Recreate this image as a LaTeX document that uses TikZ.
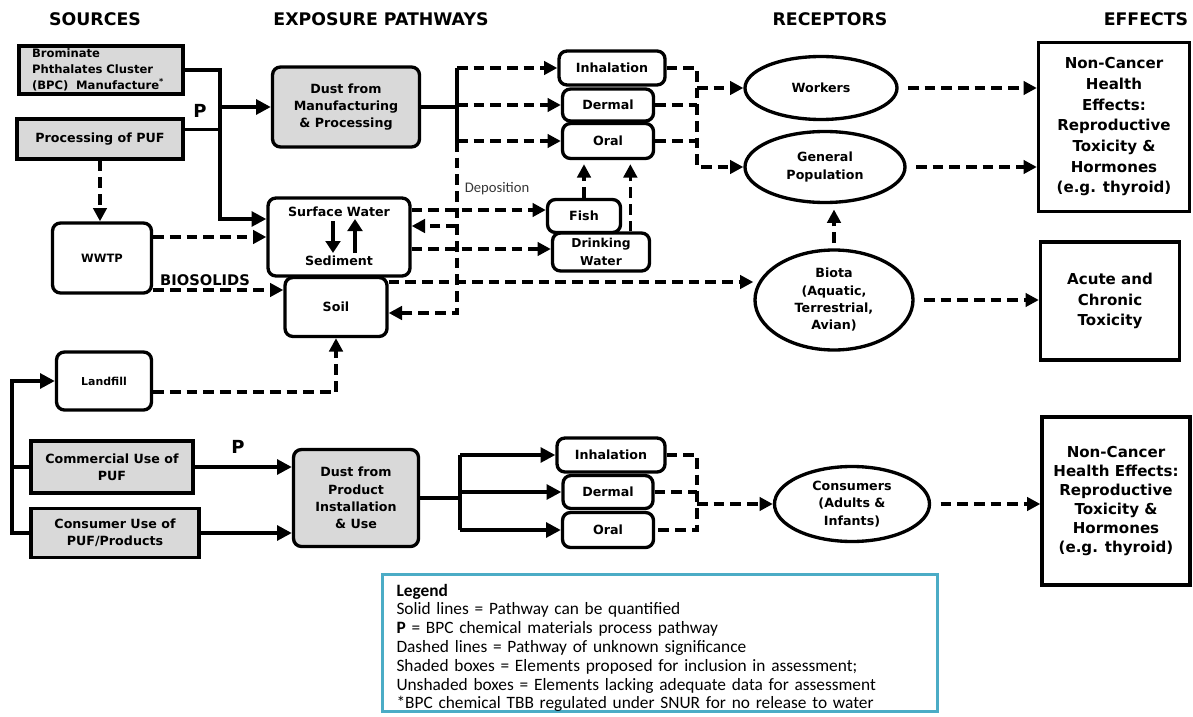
\documentclass[tikz,border=0pt]{standalone}
\usepackage{fontspec}
\setmainfont{DejaVu Sans}
\newfontfamily\legfont{Carlito}
\usetikzlibrary{arrows.meta,shapes.geometric}
\newlength\pxu \setlength\pxu{0.75pt}
\definecolor{boxgray}{RGB}{217,217,217}
\definecolor{legteal}{RGB}{75,172,198}
\definecolor{depgray}{RGB}{55,55,55}
\tikzset{
  box/.style={draw, line width=2.5pt, inner sep=1pt, align=center,
    font=\bfseries\fontsize{9.5}{13}\selectfont},
  shaded/.style={box, fill=boxgray},
  rbox/.style={box, rounded corners=6pt},
  srbox/.style={rbox, fill=boxgray},
  recep/.style={ellipse, draw, line width=2.5pt, inner sep=0pt, align=center,
    font=\bfseries\fontsize{9.5}{13}\selectfont},
  effect/.style={draw, line width=2.5pt, align=center,
    font=\bfseries\fontsize{11.3}{15.5}\selectfont},
  head/.style={font=\bfseries\fontsize{13}{15}\selectfont},
  solidln/.style={line width=2.6pt},
  dashln/.style={line width=2.6pt, dash pattern=on 8pt off 4.5pt},
  solidarr/.style={solidln, -{Triangle[length=11pt,width=11pt]}},
  dasharr/.style={dashln, -{Triangle[length=10pt,width=10pt]}},
  bigarr/.style={line width=3.4pt, -{Triangle[length=9pt,width=11pt]}},
}
\begin{document}
\begin{tikzpicture}[x=0.75pt, y=-0.75pt]
  \useasboundingbox (0,0) rectangle (1193,717);
  \node[head] (hsrc) at (95,19) {SOURCES};
  \node[head] (hexp) at (381,19) {EXPOSURE PATHWAYS};
  \node[head] (hrec) at (830,19) {RECEPTORS};
  \node[head] (heff) at (1146,19) {EFFECTS};

  % sources
  \node[shaded, minimum width=164\pxu, minimum height=48\pxu, text width=138\pxu, align=left,
    font=\bfseries\fontsize{8.7}{12}\selectfont] (bpc) at (101,70)
    {Brominate\\Phthalates Cluster\\(BPC)~~Manufacture\textsuperscript{*}};
  \node[shaded, minimum width=166\pxu, minimum height=40\pxu] (puf) at (100,139) {Processing of PUF};
  \node[rbox, minimum width=99\pxu, minimum height=70\pxu, font=\bfseries\fontsize{8.6}{12}\selectfont] (wwtp) at (102,258) {WWTP};
  \node[rbox, minimum width=95\pxu, minimum height=58\pxu, font=\bfseries\fontsize{8.2}{12}\selectfont] (landfill) at (104,381) {Landfill};
  \node[shaded, minimum width=162\pxu, minimum height=52\pxu] (comm) at (112,467) {Commercial Use of\\PUF};
  \node[shaded, minimum width=168\pxu, minimum height=49\pxu] (cons) at (115,533) {Consumer Use of\\PUF/Products};

  % media
  \node[srbox, minimum width=147\pxu, minimum height=80\pxu] (dustmfg) at (346,107) {Dust from\\Manufacturing\\\& Processing};
  \node[rbox, minimum width=142\pxu, minimum height=78\pxu] (sw) at (339,237) {};
  \node[font=\bfseries\fontsize{9.5}{13}\selectfont] (swtxt) at (339,212) {Surface Water};
  \node[font=\bfseries\fontsize{9.5}{13}\selectfont] (sedtxt) at (339,261) {Sediment};
  \draw[bigarr] (333,221) -- (333,253);
  \draw[bigarr] (355,253) -- (355,219);
  \node[rbox, minimum width=102\pxu, minimum height=59\pxu] (soil) at (336,307) {Soil};
  \node[srbox, minimum width=125\pxu, minimum height=97\pxu] (dustuse) at (356,498) {Dust from\\Product\\Installation\\\& Use};

  % routes
  \node[rbox, minimum width=106\pxu, minimum height=34\pxu] (inhA) at (612,68) {Inhalation};
  \node[rbox, minimum width=91\pxu, minimum height=32\pxu] (dermA) at (608,105) {Dermal};
  \node[rbox, minimum width=91\pxu, minimum height=35\pxu] (oralA) at (608,141) {Oral};
  \node[rbox, minimum width=73\pxu, minimum height=33\pxu] (fish) at (584,216) {Fish};
  \node[rbox, minimum width=97\pxu, minimum height=38\pxu, font=\bfseries\fontsize{9.2}{13}\selectfont] (drink) at (601,252) {Drinking\\Water};
  \node[rbox, minimum width=108\pxu, minimum height=34\pxu] (inhB) at (611,455) {Inhalation};
  \node[rbox, minimum width=90\pxu, minimum height=33\pxu] (dermB) at (608,492) {Dermal};
  \node[rbox, minimum width=91\pxu, minimum height=35\pxu] (oralB) at (608,530) {Oral};

  % receptors
  \node[recep, minimum width=152\pxu, minimum height=63\pxu] (workers) at (821,88) {Workers};
  \node[recep, minimum width=160\pxu, minimum height=71\pxu] (genpop) at (825,167) {General\\Population};
  \node[recep, minimum width=158\pxu, minimum height=100\pxu] (biota) at (834,300) {Biota\\(Aquatic,\\Terrestrial,\\Avian)};
  \node[recep, minimum width=155\pxu, minimum height=75\pxu] (consum) at (852,504) {Consumers\\(Adults \&\\Infants)};

  % effects
  \node[effect, minimum width=151\pxu, minimum height=169\pxu] (effA) at (1114,127)
    {Non-Cancer\\Health\\Effects:\\Reproductive\\Toxicity \&\\Hormones\\(e.g. thyroid)};
  \node[effect, minimum width=139\pxu, minimum height=118\pxu] (effB) at (1110,301) {Acute and\\Chronic\\Toxicity};
  \node[effect, minimum width=148\pxu, minimum height=168\pxu, font=\bfseries\fontsize{11.3}{14.3}\selectfont] (effC) at (1116,501)
    {Non-Cancer\\Health Effects:\\Reproductive\\Toxicity \&\\Hormones\\(e.g. thyroid)};

  % labels
  \node[font=\bfseries\fontsize{13.5}{15}\selectfont] (pA) at (200,111) {P};
  \node[font=\bfseries\fontsize{13.5}{15}\selectfont] (pB) at (238,447) {P};
  \node[font=\bfseries\fontsize{11}{13}\selectfont] (bios) at (205,280) {BIOSOLIDS};
  \node[font=\legfont\fontsize{11}{13}\selectfont, text=depgray] (depo) at (497,189) {Deposition};

  % upper pathways
  \coordinate (busA) at (220,70);
  \draw[solidarr] (bpc.east) -- (busA) |- (sw.west |- 0,219);
  \draw[solidln] ([yshift=7pt]puf.east) -- ([yshift=7pt]puf.east -| busA);
  \draw[solidarr] (busA |- dustmfg.west) -- (dustmfg.west);
  \coordinate (brA) at (457,107);
  \draw[solidln] (dustmfg.east) -- (brA);
  \draw[solidln] (brA |- inhA.west) -- (brA |- oralA.west);
  \foreach \r in {inhA,dermA,oralA}
    \draw[dasharr] (brA |- \r.west) -- (\r.west);
  \draw[dasharr] (brA |- oralA.west) -- (brA |- 0,313) -- (soil.east |- 0,313);
  \draw[dasharr] (brA |- 0,226) -- (sw.east |- 0,226);
  \draw[dasharr] (sw.east |- 0,210) -- (fish.west |- 0,210);
  \draw[dasharr] (sw.east |- 0,249) -- (drink.west |- 0,249);
  \draw[dasharr] (soil.east |- 0,282) -- (biota.west |- 0,282);
  \draw[dasharr, shorten >=3pt] (fish.north) -- (fish.north |- oralA.south);
  \coordinate (dk) at ([xshift=22pt]drink.north);
  \draw[dasharr, shorten >=3pt] (dk) -- (dk |- oralA.south);
  \coordinate (colA) at (697,117);
  \draw[dasharr] (inhA.east) -| (colA |- genpop.west) -- (genpop.west);
  \draw[dashln] (dermA.east) -- (dermA.east -| colA);
  \draw[dashln] (oralA.east) -- (oralA.east -| colA);
  \draw[dasharr] (colA |- workers.west) -- (workers.west);
  \draw[dasharr, shorten <=7pt] (workers.east) -- (workers.east -| effA.west);
  \draw[dasharr, shorten <=7pt] (genpop.east) -- (genpop.east -| effA.west);
  \draw[dasharr, shorten <=7pt] (biota.east) -- (biota.east -| effB.west);
  \draw[dasharr, shorten <=4pt, shorten >=4pt] (biota.north) -- (biota.north |- genpop.south);

  % releases
  \draw[dasharr] (puf.south) -- (puf.south |- wwtp.north);
  \draw[dasharr] (wwtp.east |- sw.west) -- (sw.west);
  \draw[dasharr] (wwtp.east |- 0,290) -- (soil.west |- 0,290);
  \draw[dasharr] (landfill.east |- 0,392) -| (soil.south);

  % lower pathways
  \coordinate (busB) at (12,467);
  \draw[solidarr] (cons.west) -| (busB) |- (landfill.west);
  \draw[solidln] (comm.west) -- (comm.west -| busB);
  \draw[solidarr] (comm.east) -- (comm.east -| dustuse.west);
  \draw[solidarr] (cons.east) -- (cons.east -| dustuse.west);
  \coordinate (brB) at (460,498);
  \draw[solidln] (dustuse.east) -- (brB);
  \draw[solidln] (brB |- inhB.west) -- (brB |- oralB.west);
  \foreach \r in {inhB,dermB,oralB}
    \draw[solidarr] (brB |- \r.west) -- (\r.west);
  \coordinate (colB) at (697,504);
  \draw[dashln] (inhB.east) -| (colB |- oralB.east) -- (oralB.east);
  \draw[dashln] (dermB.east) -- (dermB.east -| colB);
  \draw[dasharr] (colB) -- (consum.west);
  \draw[dasharr, shorten <=7pt] (consum.east) -- (consum.east -| effC.west);

  % legend
  \node[draw=legteal, line width=2.4pt, minimum width=555\pxu, minimum height=137\pxu] (legend) at (660,643) {};
  \node[text width=527\pxu, align=left, inner sep=0pt, font=\legfont\fontsize{13}{14.1}\selectfont] (legtxt) at (660,648)
    {\textbf{Legend}\\
     Solid lines = Pathway can be quantified\\
     \textbf{P} = BPC chemical materials process pathway\\
     Dashed lines = Pathway of unknown significance\\
     Shaded boxes = Elements proposed for inclusion in assessment;\\
     Unshaded boxes = Elements lacking adequate data for assessment\\
     {*}BPC chemical TBB regulated under SNUR for no release to water};
\end{tikzpicture}
\end{document}
